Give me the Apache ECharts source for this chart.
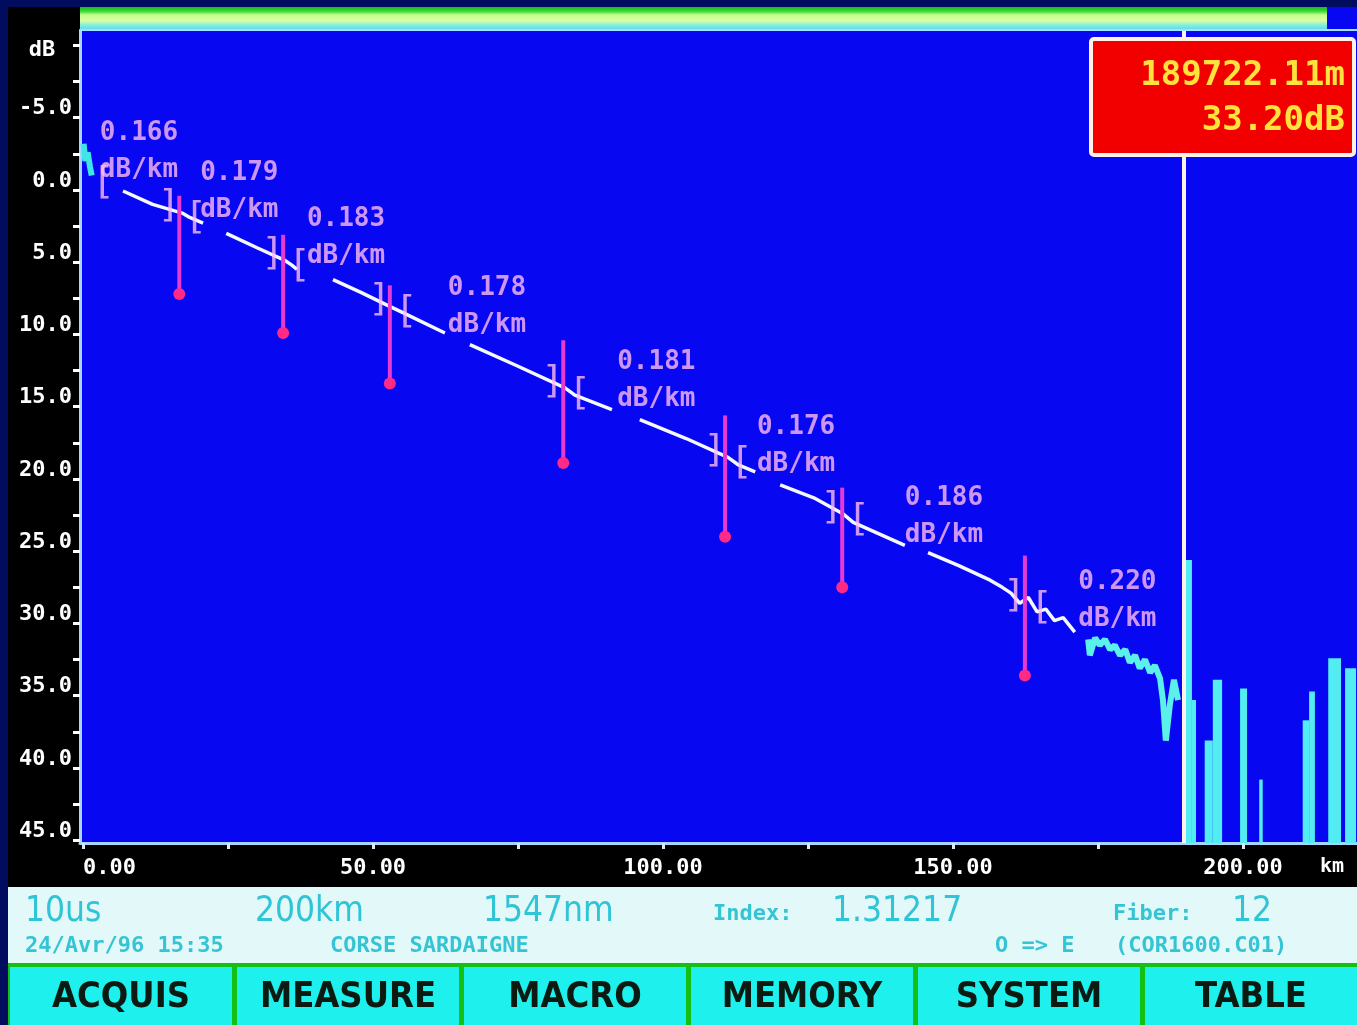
<!DOCTYPE html>
<html><head><meta charset="utf-8">
<script src="https://cdn.jsdelivr.net/npm/echarts@6/dist/echarts.min.js"></script>
<style>html,body{margin:0;padding:0;background:#020c5e;overflow:hidden}#c{width:1357px;height:1025px}</style>
</head><body><div id="c"></div>
<script>
// ---- axis ticks / labels ----
const xTickKm = [0, 25, 50, 75, 100, 125, 150, 175, 200];
const xLabelKm = [0, 50, 100, 150, 200];
const yTickDb = [-10, -7.5, -5, -2.5, 0, 2.5, 5, 7.5, 10, 12.5, 15, 17.5, 20, 22.5, 25, 27.5, 30, 32.5, 35, 37.5, 40, 42.5, 45];
const yLabelDb = [-5, 0, 5, 10, 15, 20, 25, 30, 35, 40, 45];

// ---- OTDR trace (km, dB); null = break in the drawn trace ----
const traceKm = [6.9, 12, 17.1, 18.4, 20.7, null,
  24.7, 30, 34.7, 36.0, 36.9, null,
  43.1, 48, 52.6, 54.7, 62.4, null,
  66.7, 75, 83.1, 84.8, 91.2, null,
  96.0, 104, 111.2, 112.9, 115.9, null,
  120.2, 126, 131.0, 132.8, 141.7, null,
  145.7, 151, 156.4, 158.5, 160, 161.5, 163, 164.5, 166, 167.5, 169, 171.0];
const traceDb = [0.07, 1.0, 1.6, 1.9, 2.3, null,
  3.0, 4.0, 4.85, 5.2, 5.5, null,
  6.2, 7.1, 8.0, 8.4, 9.9, null,
  10.7, 12.2, 13.7, 14.2, 15.2, null,
  15.9, 17.2, 18.5, 19.0, 19.5, null,
  20.4, 21.3, 22.4, 23.0, 24.6, null,
  25.1, 26.0, 27.0, 27.5, 27.9, 28.6, 28.2, 29.2, 29.0, 29.8, 29.6, 30.6];

// launch reflection (cyan)
const launchKm = [0.1, 0.4, 0.8, 1.2, 1.5];
const launchDb = [-3.2, -2.0, -2.6, -1.6, -1.0];

// noisy end of fibre (cyan)
const tailKm = [173.3, 173.6, 174.5, 175.3, 176.2, 177.1, 177.9, 178.8, 179.7, 180.5, 181.4, 182.2, 183.1, 184.0, 184.8, 185.7, 186.2, 186.7, 187.4, 188.1, 188.8];
const tailDb = [31.1, 32.2, 31.0, 31.5, 31.1, 31.8, 31.5, 32.2, 31.8, 32.7, 32.2, 33.1, 32.5, 33.4, 32.9, 33.8, 35.3, 38.1, 35.6, 33.9, 35.3];

// noise-floor spikes after the fibre end
const spikeStartKm = [189.9, 191.2, 193.4, 194.8, 199.5, 202.8, 210.3, 211.4, 214.7, 217.6];
const spikeEndKm   = [191.2, 191.9, 194.8, 196.4, 200.7, 203.4, 211.4, 212.4, 216.9, 219.5];
const spikeTopDb   = [25.6, 35.3, 38.1, 33.9, 34.5, 40.8, 36.7, 34.7, 32.4, 33.1];

// splice events
const eventKm       = [16.6, 34.5, 52.9, 82.8, 110.7, 130.9, 162.4];
const eventTopDb    = [0.4, 3.1, 6.6, 10.4, 15.6, 20.6, 25.3];
const eventBottomDb = [7.2, 9.9, 13.4, 18.9, 24.0, 27.5, 33.6];
const eventTraceDb  = [1.55, 4.85, 8.05, 13.7, 18.5, 22.4, 28.5];
const startBracketKm = 0.7, startBracketDb = -0.9;

// section attenuation labels
const slopeText    = ['0.166', '0.179', '0.183', '0.178', '0.181', '0.176', '0.186', '0.220'];
const slopeLabelKm = [2.9, 20.2, 38.6, 62.9, 92.1, 116.2, 141.7, 171.6];
const slopeLabelDb = [-2.66, 0.1, 3.29, 8.06, 13.2, 17.7, 22.6, 28.4];

// cursor
const cursorKm = 189.72211;
const cursorDb = 33.20;

const buttons = ['ACQUIS', 'MEASURE', 'MACRO', 'MEMORY', 'SYSTEM', 'TABLE'];

// ---------------------------------------------------------------
const X_MIN = -0.52, X_MAX = 219.66, Y_MIN = -11.07, Y_MAX = 45.19;
const MONO = '"DejaVu Sans Mono", "Liberation Mono", monospace';
const NARROW = '"Liberation Sans Narrow", "DejaVu Sans Condensed", "Roboto Condensed", "Liberation Sans", sans-serif';
const PINK = '#ffbaf2';
const BLUE = '#0707f2';

const pair = (a, b) => a.map((v, i) => (v === null ? ['-', '-'] : [v, b[i]]));

const chart = echarts.init(document.getElementById('c'), null, {renderer: 'canvas'});

const btnX = [10, 237, 464, 691, 918, 1145];
const btnW = [222, 222, 222, 222, 222, 212];

const graphics = [
  {type: 'rect', z: -10, shape: {x: 8, y: 7, width: 72, height: 880}, style: {fill: '#000000'}},
  {type: 'rect', z: -10, shape: {x: 8, y: 845, width: 1349, height: 42}, style: {fill: '#000000'}},
  {type: 'rect', z: -10, shape: {x: 80, y: 7, width: 1277, height: 24}, style: {fill: BLUE}},
  {type: 'rect', z: 50, shape: {x: 80, y: 7, width: 1247, height: 23},
    style: {fill: new echarts.graphic.LinearGradient(0, 0, 0, 1, [
      {offset: 0, color: '#18b818'}, {offset: 0.18, color: '#3ad83a'},
      {offset: 0.35, color: '#c8ff8c'}, {offset: 0.6, color: '#d6ffa6'},
      {offset: 0.78, color: '#86f0dc'}, {offset: 1, color: '#5cd6f2'}])}},
  {type: 'rect', z: 50, shape: {x: 80, y: 29, width: 1277, height: 2}, style: {fill: '#9fe4ff'}},
  {type: 'text', z: 50, style: {text: 'dB', x: 42, y: 50, fill: '#ffffff', font: 'bold 22px ' + MONO, textAlign: 'center', textVerticalAlign: 'middle'}},
  {type: 'text', z: 50, style: {text: 'km', x: 1332, y: 867, fill: '#ffffff', font: 'bold 20px ' + MONO, textAlign: 'center', textVerticalAlign: 'middle'}},
  {type: 'rect', z: 60, shape: {x: 1091, y: 39, width: 263, height: 116, r: 3}, style: {fill: '#f20000', stroke: '#fff2e6', lineWidth: 4}},
  {type: 'text', z: 61, style: {text: (cursorKm * 1000).toFixed(2) + 'm', x: 1345, y: 76, fill: '#ffe23c', font: 'bold 34px ' + MONO, textAlign: 'right', textVerticalAlign: 'middle'}},
  {type: 'text', z: 61, style: {text: cursorDb.toFixed(2) + 'dB', x: 1345, y: 121, fill: '#ffe23c', font: 'bold 34px ' + MONO, textAlign: 'right', textVerticalAlign: 'middle'}},
  {type: 'rect', z: 10, shape: {x: 8, y: 887, width: 1349, height: 76}, style: {fill: '#e3f9f9'}},
  {type: 'text', z: 11, style: {text: '10us', x: 25, y: 912, fill: '#2fc4d6', font: '35px ' + NARROW, textVerticalAlign: 'middle'}},
  {type: 'text', z: 11, style: {text: '200km', x: 255, y: 912, fill: '#2fc4d6', font: '35px ' + NARROW, textVerticalAlign: 'middle'}},
  {type: 'text', z: 11, style: {text: '1547nm', x: 483, y: 912, fill: '#2fc4d6', font: '35px ' + NARROW, textVerticalAlign: 'middle'}},
  {type: 'text', z: 11, style: {text: 'Index:', x: 713, y: 914, fill: '#35c4d4', font: 'bold 22px ' + MONO, textVerticalAlign: 'middle'}},
  {type: 'text', z: 11, style: {text: '1.31217', x: 832, y: 912, fill: '#2fc4d6', font: '35px ' + NARROW, textVerticalAlign: 'middle'}},
  {type: 'text', z: 11, style: {text: 'Fiber:', x: 1113, y: 914, fill: '#35c4d4', font: 'bold 22px ' + MONO, textVerticalAlign: 'middle'}},
  {type: 'text', z: 11, style: {text: '12', x: 1232, y: 912, fill: '#2fc4d6', font: '35px ' + NARROW, textVerticalAlign: 'middle'}},
  {type: 'text', z: 11, style: {text: '24/Avr/96 15:35', x: 25, y: 946, fill: '#35c4d4', font: 'bold 22px ' + MONO, textVerticalAlign: 'middle'}},
  {type: 'text', z: 11, style: {text: 'CORSE SARDAIGNE', x: 330, y: 946, fill: '#35c4d4', font: 'bold 22px ' + MONO, textVerticalAlign: 'middle'}},
  {type: 'text', z: 11, style: {text: 'O => E', x: 995, y: 946, fill: '#35c4d4', font: 'bold 22px ' + MONO, textVerticalAlign: 'middle'}},
  {type: 'text', z: 11, style: {text: '(COR1600.C01)', x: 1115, y: 946, fill: '#35c4d4', font: 'bold 22px ' + MONO, textVerticalAlign: 'middle'}},
  {type: 'rect', z: 10, shape: {x: 8, y: 963, width: 1349, height: 62}, style: {fill: '#14c014'}}
];
buttons.forEach((b, i) => {
  graphics.push({type: 'rect', z: 11, shape: {x: btnX[i], y: 967, width: btnW[i], height: 58}, style: {fill: '#1ef0ee'}});
  graphics.push({type: 'text', z: 12, style: {text: b, x: btnX[i] + btnW[i] / 2, y: 998, fill: '#0c1a12', font: 'bold 36px ' + NARROW, textAlign: 'center', textVerticalAlign: 'middle'}});
});

const option = {
  backgroundColor: '#020c5e',
  animation: false,
  graphic: {elements: graphics},
  grid: {left: 80, right: 0, top: 30, bottom: 182, show: true, backgroundColor: BLUE, borderWidth: 0},
  xAxis: {
    type: 'value', min: X_MIN, max: X_MAX,
    axisLine: {show: true, onZero: false, lineStyle: {color: '#a6d6ff', width: 3}},
    axisTick: {show: true, customValues: xTickKm, length: 6, lineStyle: {color: '#dde8ff', width: 3}},
    axisLabel: {customValues: xLabelKm, formatter: v => v.toFixed(2), color: '#ffffff', fontFamily: MONO, fontWeight: 'bold', fontSize: 22, margin: 14, alignMinLabel: 'left'},
    splitLine: {show: false}
  },
  yAxis: {
    type: 'value', inverse: true, min: Y_MIN, max: Y_MAX,
    axisLine: {show: true, onZero: false, lineStyle: {color: '#a6d6ff', width: 3}},
    axisTick: {show: true, customValues: yTickDb, length: 7, lineStyle: {color: '#ffffff', width: 3}},
    axisLabel: {customValues: yLabelDb, formatter: v => v.toFixed(1), color: '#ffffff', fontFamily: MONO, fontWeight: 'bold', fontSize: 22, margin: 8, verticalAlign: 'bottom', lineHeight: 18},
    splitLine: {show: false}
  },
  series: [
    {
      type: 'custom', z: 3,
      data: spikeStartKm.map((s, i) => [s, spikeTopDb[i], spikeEndKm[i]]),
      renderItem: (params, api) => {
        const p1 = api.coord([api.value(0), api.value(1)]);
        const p2 = api.coord([api.value(2), api.value(1)]);
        const bottom = params.coordSys.y + params.coordSys.height;
        return {type: 'rect', shape: {x: p1[0], y: p1[1], width: Math.max(2, p2[0] - p1[0]), height: bottom - p1[1]},
          style: {fill: '#52ecf2'}};
      }
    },
    {
      type: 'line', z: 4, data: pair(launchKm, launchDb), showSymbol: false,
      lineStyle: {color: '#3fe6e6', width: 6}
    },
    {
      type: 'line', z: 4, data: pair(traceKm, traceDb), showSymbol: false, connectNulls: false,
      lineStyle: {color: '#f4f8ff', width: 3.5}
    },
    {
      type: 'line', z: 4, data: pair(tailKm, tailDb), showSymbol: false,
      lineStyle: {color: '#5cf0ea', width: 6}
    },
    {
      type: 'line', z: 5, data: [],
      markLine: {silent: true, symbol: ['none', 'none'], label: {show: false},
        lineStyle: {color: '#fff2ec', width: 4, type: 'solid'}, data: [{xAxis: cursorKm}]}
    },
    {
      type: 'custom', z: 6,
      data: eventKm.map((k, i) => [k, eventTopDb[i], eventBottomDb[i]]),
      renderItem: (params, api) => {
        const p1 = api.coord([api.value(0), api.value(1)]);
        const p2 = api.coord([api.value(0), api.value(2)]);
        return {type: 'group', children: [
          {type: 'line', shape: {x1: p1[0], y1: p1[1], x2: p2[0], y2: p2[1]}, style: {stroke: '#e63ad2', lineWidth: 4}},
          {type: 'circle', shape: {cx: p2[0], cy: p2[1], r: 6}, style: {fill: '#ff2a86'}}
        ]};
      }
    },
    {
      type: 'scatter', z: 7, symbolSize: 0, silent: true,
      data: eventKm.map((k, i) => [k, eventTraceDb[i]]),
      label: {show: true, position: [0, 0], formatter: ']', align: 'right', verticalAlign: 'middle', offset: [1, -6],
        color: PINK, fontFamily: MONO, fontSize: 38}
    },
    {
      type: 'scatter', z: 7, symbolSize: 0, silent: true,
      data: [[startBracketKm, startBracketDb]].concat(eventKm.map((k, i) => [k, eventTraceDb[i]])),
      label: {show: true, position: [0, 0], formatter: '[', align: 'left', verticalAlign: 'middle', offset: [5, 6],
        color: PINK, fontFamily: MONO, fontSize: 38}
    },
    {
      type: 'scatter', z: 7, symbolSize: 0, silent: true,
      data: slopeLabelKm.map((k, i) => [k, slopeLabelDb[i], slopeText[i]]),
      label: {show: true, position: [0, 0], align: 'left', verticalAlign: 'middle',
        formatter: p => p.data[2] + '\ndB/km', lineHeight: 37,
        color: PINK, fontFamily: MONO, fontWeight: 'bold', fontSize: 26}
    }
  ]
};
chart.setOption(option);
</script></body></html>
